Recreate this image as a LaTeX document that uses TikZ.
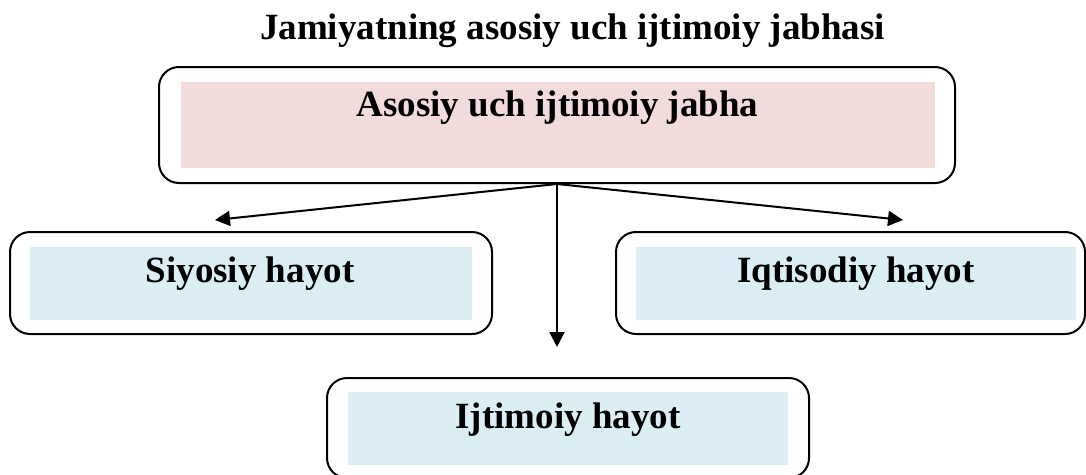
\documentclass[tikz,border=0pt]{standalone}
\usepackage{fontspec}
\setmainfont{Liberation Serif}
\usetikzlibrary{arrows.meta}
\definecolor{pinkfill}{RGB}{242,219,219}
\definecolor{bluefill}{RGB}{218,238,243}
\tikzset{
  outerbox/.style={draw=black, line width=2pt, rounded corners=20pt, fill=white, inner sep=0pt, minimum width=#1},
  innerfill/.style={fill=#1, draw=none, inner sep=0pt},
  lbl/.style={anchor=base, inner sep=0pt, font=\bfseries\fontsize{37}{44}\selectfont},
  conn/.style={line width=2pt, -{Triangle[length=15pt,width=15pt]}}
}
\begin{document}
\begin{tikzpicture}[x=1pt,y=-1pt]
\useasboundingbox (0,0) rectangle (1086,474);
\clip (0,0) rectangle (1086,474);
% title
\node[lbl] (title) at (572.5,39) {Jamiyatning asosiy uch ijtimoiy jabhasi};
% top box
\node[outerbox=796pt, minimum height=116pt] (top) at (557,125) {};
\node[innerfill=pinkfill, minimum width=754pt, minimum height=86pt] (topin) at (558,125) {};
\node[lbl] (toptxt) at (557.5,116) {Asosiy uch ijtimoiy jabha};
% left box
\node[outerbox=482pt, minimum height=102pt] (left) at (251,283) {};
\node[innerfill=bluefill, minimum width=442pt, minimum height=73pt] (leftin) at (251,283.5) {};
\node[lbl] (lefttxt) at (250,282) {Siyosiy hayot};
% right box
\node[outerbox=469pt, minimum height=102pt] (right) at (850.5,283) {};
\node[innerfill=bluefill, minimum width=440pt, minimum height=73pt] (rightin) at (856,283.5) {};
\node[lbl] (righttxt) at (856,282) {Iqtisodiy hayot};
% bottom box
\node[outerbox=482pt, minimum height=100pt] (bottom) at (568,428) {};
\node[innerfill=bluefill, minimum width=440pt, minimum height=73pt] (bottomin) at (568,428.5) {};
\node[lbl] (bottomtxt) at (568,428) {Ijtimoiy hayot};
% connectors
\coordinate (tipL) at (215,220);
\coordinate (tipR) at (903,220);
\coordinate (tipD) at (557,347);
\draw[conn] (top.south) -- (tipL);
\draw[conn] (top.south) -- (tipR);
\draw[conn] (top.south) -- (tipD);
\end{tikzpicture}
\end{document}
